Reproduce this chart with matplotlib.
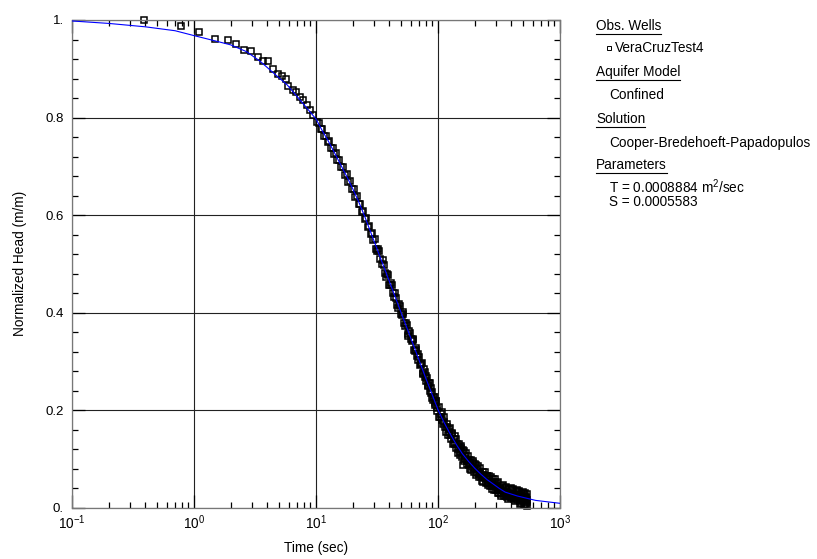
import numpy as np
import matplotlib
matplotlib.use('Agg')
import matplotlib.pyplot as plt
from matplotlib.ticker import FixedLocator, LogLocator, NullFormatter
from matplotlib.lines import Line2D

plt.rcParams['font.family'] = ['Liberation Sans', 'DejaVu Sans']
plt.rcParams['mathtext.fontset'] = 'custom'
plt.rcParams['mathtext.rm'] = 'Liberation Sans'
plt.rcParams['mathtext.it'] = 'Liberation Sans:italic'
plt.rcParams['mathtext.bf'] = 'Liberation Sans:bold'

# type curve (Cooper-Bredehoeft-Papadopulos fit)
fit_time = [0.1, 0.2, 0.4, 0.7, 1.0, 1.5, 2.0, 2.7, 3.5, 4.5, 5.8, 7.4, 10, 11.2, 12.6,
            14.1, 15.8, 17.8, 20, 22.4, 25.1, 31.6, 39.8, 50, 63, 79, 100, 112, 126,
            141, 158, 178, 200, 224, 251, 282, 316, 355, 398, 447, 501, 631, 794, 1000]
fit_head = [0.998, 0.993, 0.986, 0.978, 0.968, 0.957, 0.949, 0.935, 0.915, 0.891, 0.867,
            0.836, 0.797, 0.774, 0.752, 0.729, 0.705, 0.680, 0.654, 0.627, 0.597, 0.531,
            0.465, 0.399, 0.333, 0.267, 0.201, 0.175, 0.151, 0.130, 0.111, 0.095, 0.081,
            0.069, 0.058, 0.049, 0.040, 0.032, 0.028, 0.024, 0.021, 0.015, 0.012, 0.009]

# observations VeraCruzTest4
obs_time_early = [0.39, 0.78, 1.10, 1.48, 1.89, 2.19, 2.59, 2.94, 3.33, 3.65, 4.06, 4.44,
                  4.87, 5.27, 5.67, 5.92, 6.43, 6.90, 7.36, 7.84, 8.40, 8.90, 9.50, 10.1]
obs_head_early = [0.999, 0.988, 0.976, 0.962, 0.958, 0.950, 0.939, 0.936, 0.925, 0.915, 0.915,
                  0.900, 0.890, 0.885, 0.880, 0.865, 0.856, 0.853, 0.843, 0.836, 0.826, 0.815,
                  0.805, 0.791]

obs_time_mid = [10.5, 10.9, 11.3, 11.7, 12.1, 12.5, 12.9, 13.3, 13.7, 14.1, 14.5, 15.0,
                15.5, 16.0, 16.6, 17.2, 17.8, 18.4, 19.0, 19.6, 20.3, 21.0, 21.7, 22.4,
                23.1, 23.8, 24.5, 25.2, 25.9, 26.6, 27.3, 28.0, 28.7, 29.4,
                30.2, 31.6, 33.0, 34.5, 36.0, 37.5, 39.0, 40.6, 42.2, 43.8, 45.4, 47.0,
                48.7, 50.4, 52.1, 53.8, 55.5, 57.3, 59.1, 60.9, 62.7, 64.5, 66.3, 68.1,
                70.0, 71.9, 73.8, 75.7, 77.6, 79.5, 81.4, 83.3, 85.2, 87.1, 89.0, 91.0,
                93.0, 95.0, 97.0, 99.0,
                30.9, 32.3, 33.7, 35.2, 36.7, 38.2, 39.8, 41.4, 43.0, 44.6, 46.2, 47.8,
                49.5, 51.2, 52.9, 54.6, 56.4, 58.2, 60.0, 61.8, 63.6, 65.4, 67.2, 69.0,
                70.9, 72.8, 74.7, 76.6, 78.5, 80.4, 82.3, 84.2, 86.1, 88.0, 90.0, 92.0,
                94.0, 96.0, 98.0]
obs_head_mid = [0.789, 0.777, 0.776, 0.763, 0.762, 0.749, 0.751, 0.737, 0.738, 0.725, 0.728,
                0.713, 0.713, 0.699, 0.699, 0.683, 0.684, 0.668, 0.670, 0.654, 0.654, 0.638,
                0.639, 0.623, 0.623, 0.606, 0.608, 0.592, 0.593, 0.576, 0.578, 0.561, 0.563,
                0.548,
                0.550, 0.526, 0.527, 0.499, 0.497, 0.473, 0.478, 0.456, 0.457, 0.432, 0.431,
                0.409, 0.413, 0.395, 0.397, 0.373, 0.374, 0.353, 0.358, 0.341, 0.344, 0.321,
                0.323, 0.303, 0.309, 0.294, 0.297, 0.275, 0.278, 0.259, 0.266, 0.252, 0.256,
                0.235, 0.238, 0.220, 0.228, 0.214, 0.219, 0.198,
                0.531, 0.530, 0.509, 0.508, 0.482, 0.480, 0.456, 0.460, 0.441, 0.440, 0.415,
                0.418, 0.398, 0.401, 0.378, 0.378, 0.356, 0.362, 0.346, 0.346, 0.324, 0.328,
                0.311, 0.315, 0.293, 0.295, 0.276, 0.284, 0.268, 0.271, 0.250, 0.255, 0.240,
                0.246, 0.225, 0.228, 0.210, 0.219, 0.205]

obs_time_late = [101, 104, 107, 110, 113, 116, 119, 122, 125, 128, 131, 134, 137, 140, 143,
                 146, 149, 152, 155, 158, 161, 162, 166, 170, 174, 178, 182, 186, 190, 194,
                 198, 203, 208, 213, 218, 223, 228, 233, 238, 243, 248, 253, 258, 263, 268,
                 273, 278, 283, 288, 293, 298, 303, 308, 313, 318, 323, 328, 333, 338, 343,
                 348, 353, 358, 363, 368, 373, 378, 383, 388, 393, 398, 403, 408, 413, 418,
                 423, 428, 433, 438, 443, 448, 453, 458, 463, 468, 470, 473, 478, 483, 488,
                 493, 498, 503, 505, 508, 513, 518, 520, 523, 528, 533, 535, 538,
                 102.5, 105.5, 108.5, 111.5, 114.5, 117.5, 120.5, 123.5, 126.5, 129.5, 132.5,
                 135.5, 138.5, 141.5, 144.5, 147.5, 150.5, 153.5, 156.5, 160, 164, 168, 172,
                 176, 180, 184, 188, 192, 196, 200,
                 205.5, 210.5, 215.5, 220.5, 225.5, 230.5, 235.5, 240.5, 245.5, 250.5, 255.5,
                 260.5, 265.5, 270.5, 275.5, 280.5, 285.5, 290.5, 295.5,
                 300.5, 310.5, 320.5, 330.5, 340.5, 350.5, 360.5, 370.5, 380.5, 390.5, 400.5,
                 410.5, 420.5, 430.5, 440.5, 450.5, 460.5, 470.5, 480.5, 490.5, 500.5, 510.5,
                 520.5, 530.5, 540]
obs_head_late = [0.207, 0.186, 0.197, 0.171, 0.176, 0.156, 0.172, 0.155, 0.164, 0.140, 0.152,
                 0.133, 0.146, 0.123, 0.130, 0.113, 0.130, 0.115, 0.127, 0.103, 0.088, 0.116,
                 0.099, 0.112, 0.089, 0.097, 0.080, 0.098, 0.084, 0.096, 0.074, 0.087, 0.071,
                 0.085, 0.063, 0.071, 0.055, 0.074, 0.060, 0.073, 0.051, 0.065, 0.050, 0.065,
                 0.044, 0.053, 0.038, 0.058, 0.044, 0.058, 0.037, 0.051, 0.036, 0.052, 0.031,
                 0.041, 0.025, 0.045, 0.032, 0.046, 0.025, 0.040, 0.026, 0.042, 0.022, 0.032,
                 0.018, 0.038, 0.026, 0.040, 0.020, 0.036, 0.021, 0.038, 0.017, 0.028, 0.013,
                 0.034, 0.022, 0.036, 0.016, 0.032, 0.017, 0.034, 0.014, 0.007, 0.024, 0.010,
                 0.031, 0.019, 0.033, 0.013, 0.029, 0.006, 0.015, 0.031, 0.011, 0.005, 0.022,
                 0.008, 0.028, 0.004, 0.016,
                 0.185, 0.193, 0.180, 0.187, 0.165, 0.166, 0.149, 0.161, 0.149, 0.154, 0.131,
                 0.141, 0.131, 0.140, 0.120, 0.124, 0.108, 0.122, 0.112, 0.118, 0.096, 0.107,
                 0.096, 0.106, 0.088, 0.092, 0.077, 0.092, 0.082, 0.089,
                 0.068, 0.079, 0.070, 0.081, 0.062, 0.067, 0.053, 0.068, 0.059, 0.066, 0.047,
                 0.059, 0.051, 0.062, 0.045, 0.050, 0.037, 0.053, 0.044,
                 0.042, 0.030, 0.038, 0.028, 0.036, 0.030, 0.024, 0.029, 0.027, 0.023, 0.027,
                 0.029, 0.022, 0.019, 0.027, 0.021, 0.026, 0.019, 0.022, 0.024, 0.018, 0.023,
                 0.017, 0.020, 0.012]

obs_time = obs_time_early + obs_time_mid + obs_time_late
obs_head = obs_head_early + obs_head_mid + obs_head_late

y_ticks = [0.0, 0.2, 0.4, 0.6, 0.8, 1.0]
y_labels = ['0.', '0.2', '0.4', '0.6', '0.8', '1.']
x_ticks = [0.1, 1, 10, 100, 1000]
x_labels = [r'$\mathregular{10^{-1}}$', r'$\mathregular{10^{0}}$', r'$\mathregular{10^{1}}$',
            r'$\mathregular{10^{2}}$', r'$\mathregular{10^{3}}$']

W, H = 817, 559
fig = plt.figure(figsize=(W / 100, H / 100), dpi=100)
ax = fig.add_axes([72 / W, 1 - 507.7 / H, (560 - 72) / W, (507.7 - 20) / H])
ax.set_xscale('log')
ax.set_xlim(0.1, 1000)
ax.set_ylim(0, 1)

ax.plot(obs_time, obs_head, ls='none', marker='s', ms=4.1, mfc='none', mec='black',
        mew=1.1, clip_on=False, zorder=2)
ax.plot(fit_time, fit_head, color='blue', lw=0.8, zorder=3)

ax.set_yticks(y_ticks)
ax.set_yticklabels(y_labels)
ax.yaxis.set_minor_locator(FixedLocator(np.arange(0, 1.0001, 0.04)))
ax.set_xticks(x_ticks)
ax.set_xticklabels(x_labels)
ax.xaxis.set_minor_locator(LogLocator(base=10, subs=np.arange(2, 10)))
ax.xaxis.set_minor_formatter(NullFormatter())

ax.tick_params(which='both', direction='in', top=True, right=True, color='black', width=0.9)
ax.tick_params(which='major', length=9.4)
ax.tick_params(which='minor', length=4.6)
ax.tick_params(axis='y', labelsize=9.5, pad=6)
ax.tick_params(axis='x', labelsize=9.8, pad=4)

ax.grid(True, which='major', color='#222222', lw=0.8)
for s in ax.spines.values():
    s.set_color('#777777')
    s.set_linewidth(0.9)

fig.text(20 / W, 1 - 263 / H, 'Normalized Head (m/m)', rotation=90, ha='center',
         va='center', fontsize=9.8)
fig.text(316 / W, 1 - 548 / H, 'Time (sec)', ha='center', va='center', fontsize=9.8)

# side panel
fs = 9.8
headers = [('Obs. Wells', 26, 34.3), ('Aquifer Model', 71.7, 80), ('Solution', 119.3, 127.3),
           ('Parameters', 165, 173.3)]
header_texts = []
for label, yc, yu in headers:
    t = fig.text(596 / W, 1 - yc / H, label, ha='left', va='center', fontsize=fs)
    header_texts.append((t, yu))

fig.text(615 / W, 1 - 47.7 / H, 'VeraCruzTest4', ha='left', va='center', fontsize=fs)
fig.add_artist(Line2D([609 / W], [1 - 47.7 / H], marker='s', ms=3.2, mfc='none',
                      mec='black', mew=0.7, ls='none', transform=fig.transFigure))
fig.text(609 / W, 1 - 95 / H, 'Confined', ha='left', va='center', fontsize=fs)
fig.text(609 / W, 1 - 142.7 / H, 'Cooper-Bredehoeft-Papadopulos', ha='left', va='center',
         fontsize=fs)
fig.text(609 / W, 1 - 187 / H, r'T = 0.0008884 m$^\mathregular{2}$/sec', ha='left',
         va='center', fontsize=fs)
fig.text(609 / W, 1 - 202.5 / H, 'S = 0.0005583', ha='left', va='center', fontsize=fs)

fig.canvas.draw()
renderer = fig.canvas.get_renderer()
for t, yu in header_texts:
    bb = t.get_window_extent(renderer)
    fig.add_artist(Line2D([bb.x0 / W, bb.x1 / W], [1 - yu / H, 1 - yu / H], color='black',
                          lw=0.8, transform=fig.transFigure))

fig.savefig('out.png', dpi=100)
